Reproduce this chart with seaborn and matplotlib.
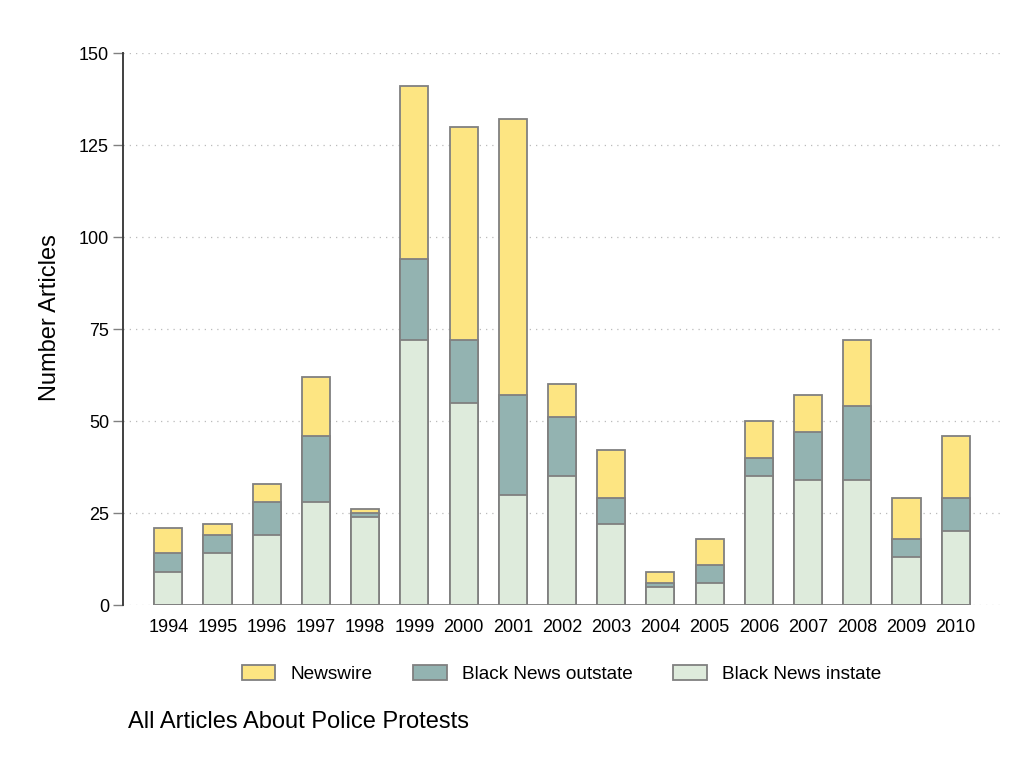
import numpy as np
import pandas as pd
import matplotlib
matplotlib.use('Agg')
import matplotlib.pyplot as plt
from matplotlib.patches import Patch
import seaborn as sns

# data
years = [str(y) for y in range(1994, 2011)]
instate = [9, 14, 19, 28, 24, 72, 55, 30, 35, 22, 5, 6, 35, 34, 34, 13, 20]
outstate = [5, 5, 9, 18, 1, 22, 17, 27, 16, 7, 1, 5, 5, 13, 20, 5, 9]
newswire = [7, 3, 5, 16, 1, 47, 58, 75, 9, 13, 3, 7, 10, 10, 18, 11, 17]

series_names = ["Newswire", "Black News outstate", "Black News instate"]
colors = ["#FDE582", "#93B3B1", "#DEEBDC"]
edge = "#808080"

df = pd.DataFrame({"year": years, "instate": instate,
                   "outstate": outstate, "newswire": newswire})
df["lvl1"] = df["instate"]
df["lvl2"] = df["instate"] + df["outstate"]
df["lvl3"] = df["lvl2"] + df["newswire"]

sns.set_style("white")
plt.rcParams['font.family'] = ['Liberation Sans', 'DejaVu Sans']
plt.rcParams['text.color'] = 'black'
plt.rcParams['axes.labelcolor'] = 'black'
plt.rcParams['xtick.color'] = 'black'
plt.rcParams['ytick.color'] = 'black'

fig = plt.figure(figsize=(10.24, 7.68), dpi=100)
ax = fig.add_axes([123 / 1024, 1 - 605 / 768, 877 / 1024, 552 / 768])

bar_w = 0.57
# stacked look: draw cumulative totals from tallest down
for col, c in zip(["lvl3", "lvl2", "lvl1"], colors):
    sns.barplot(data=df, x="year", y=col, color=c, edgecolor=edge,
                linewidth=1.3, width=bar_w, saturation=1, ax=ax, zorder=3)

ax.hlines(0, -bar_w / 2, len(years) - 1 + bar_w / 2, color=edge,
          linewidth=1.3, zorder=4)

ax.set_ylim(0, 150)
ax.set_xlim(-0.92, len(years) - 1 + 0.9)
ax.set_yticks([0, 25, 50, 75, 100, 125, 150])
ax.yaxis.grid(True, linestyle=(0, (1, 4)), color="#bbbbbb", linewidth=0.9)
ax.xaxis.grid(False)
ax.set_axisbelow(True)

for s in ["top", "right", "bottom"]:
    ax.spines[s].set_visible(False)
ax.spines["left"].set_color("#404040")
ax.spines["left"].set_linewidth(1.4)

ax.tick_params(axis="y", length=7, width=1, color="#808080", labelcolor="black",
               labelsize=13, pad=3, left=True)
ax.tick_params(axis="x", length=0, labelsize=13, labelcolor="black", pad=10)

ax.set_xlabel("")
ax.set_ylabel("Number Articles", fontsize=17, color="black")
ax.yaxis.set_label_coords(-0.071, 0.52)

handles = [Patch(facecolor=c, edgecolor=edge, linewidth=1.3) for c in colors]
ax.legend(handles, series_names, loc="center", bbox_to_anchor=(0.5, -0.125),
          ncol=3, frameon=False, fontsize=13.7, handlelength=1.75,
          handleheight=0.8, handletextpad=0.8, columnspacing=2.15)

fig.text(128 / 1024, 1 - 728 / 768, "All Articles About Police Protests",
         fontsize=17, va="baseline", ha="left", color="black")

fig.savefig("out.png", dpi=100)
plt.close(fig)
